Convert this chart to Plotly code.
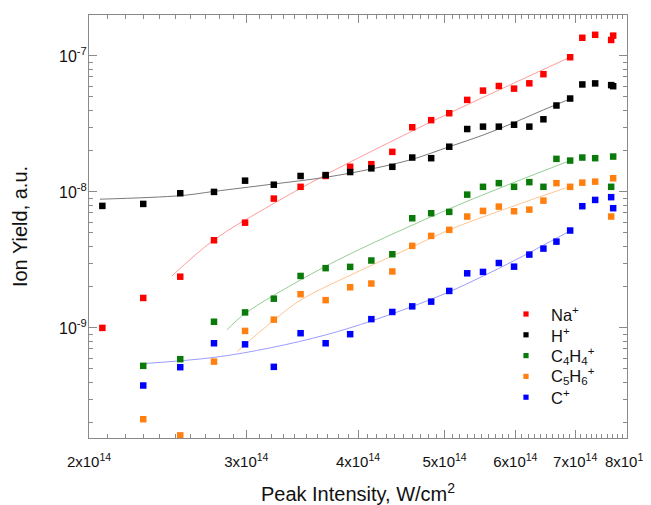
import plotly.graph_objects as go

# ---------------- data (intensity in units of 1e14 W/cm^2) ----------------
I_all = [2.07, 2.30, 2.53, 2.76, 2.99, 3.22, 3.45, 3.68, 3.92, 4.14, 4.37, 4.60, 4.83,
         5.06, 5.30, 5.52, 5.75, 5.98, 6.22, 6.45, 6.67, 6.91, 7.13, 7.37, 7.68, 7.72]

na_x = [2.07, 2.30, 2.53, 2.76, 2.99, 3.22, 3.45, 3.68, 3.92, 4.14, 4.37, 4.60, 4.83,
        5.06, 5.30, 5.52, 5.75, 5.98, 6.22, 6.45, 6.91, 7.13, 7.37, 7.68, 7.72]
na_y = [1.00e-9, 1.66e-9, 2.38e-9, 4.41e-9, 5.94e-9, 8.93e-9, 1.09e-8, 1.31e-8, 1.53e-8,
        1.60e-8, 1.97e-8, 2.99e-8, 3.37e-8, 3.79e-8, 4.75e-8, 5.56e-8, 6.01e-8, 5.75e-8,
        6.29e-8, 7.34e-8, 9.78e-8, 1.36e-7, 1.43e-7, 1.31e-7, 1.41e-7]

h_x = I_all
h_y = [7.89e-9, 8.16e-9, 9.78e-9, 1.00e-8, 1.21e-8, 1.13e-8, 1.31e-8, 1.33e-8, 1.40e-8,
       1.49e-8, 1.53e-8, 1.79e-8, 1.77e-8, 2.15e-8, 2.90e-8, 3.02e-8, 3.02e-8, 3.12e-8,
       3.02e-8, 3.42e-8, 4.32e-8, 4.86e-8, 6.17e-8, 6.28e-8, 6.10e-8, 5.99e-8]

c4h4_x = I_all[1:]
c4h4_y = [5.26e-10, 5.89e-10, 1.11e-9, 1.30e-9, 1.64e-9, 2.41e-9, 2.75e-9, 2.81e-9, 3.13e-9,
          3.48e-9, 6.40e-9, 6.97e-9, 7.13e-9, 9.55e-9, 1.09e-8, 1.16e-8, 1.09e-8, 1.18e-8,
          1.09e-8, 1.75e-8, 1.70e-8, 1.79e-8, 1.77e-8, 1.09e-8, 1.82e-8]

c5h6_x = I_all[1:]
c5h6_y = [2.13e-10, 1.62e-10, 5.65e-10, 9.50e-10, 1.15e-9, 1.77e-9, 1.60e-9, 1.99e-9, 2.12e-9,
          2.60e-9, 4.01e-9, 4.75e-9, 5.26e-9, 6.59e-9, 7.25e-9, 7.80e-9, 7.21e-9, 7.41e-9,
          8.63e-9, 1.16e-8, 1.09e-8, 1.17e-8, 1.19e-8, 6.59e-9, 1.26e-8]

c_x = I_all[1:]
c_y = [3.77e-10, 5.14e-10, 7.71e-10, 7.57e-10, 5.17e-10, 9.14e-10, 7.71e-10, 8.99e-10, 1.16e-9,
       1.31e-9, 1.44e-9, 1.56e-9, 1.87e-9, 2.52e-9, 2.58e-9, 3.00e-9, 2.82e-9, 3.46e-9,
       3.83e-9, 4.31e-9, 5.20e-9, 7.85e-9, 8.73e-9, 9.15e-9, 7.59e-9]

# fit curves
na_fit_x = [2.477, 2.76, 3.149, 3.678, 4.604, 5.06, 6.91]
na_fit_y = [2.41e-9, 4.44e-9, 7.56e-9, 1.334e-8, 2.81e-8, 3.79e-8, 9.79e-8]
h_fit_x = [2.057, 2.533, 2.762, 3.19, 3.678, 4.142, 4.604, 5.06, 5.524, 5.984, 6.45, 6.91]
h_fit_y = [8.84e-9, 9.39e-9, 1.009e-8, 1.135e-8, 1.28e-8, 1.476e-8, 1.74e-8, 2.15e-8,
           2.62e-8, 3.24e-8, 4.01e-8, 4.83e-8]
c4h4_fit_x = [2.853, 2.993, 3.453, 3.92, 5.06, 5.922, 6.91]
c4h4_fit_y = [9.67e-10, 1.28e-9, 2.26e-9, 3.50e-9, 7.50e-9, 1.145e-8, 1.70e-8]
c5h6_fit_x = [2.93, 3.224, 3.453, 4.024, 4.60, 5.06, 5.922, 6.91]
c5h6_fit_y = [6.72e-10, 1.146e-9, 1.607e-9, 2.64e-9, 3.94e-9, 5.26e-9, 7.72e-9, 1.097e-8]
c_fit_x = [2.30, 2.762, 3.19, 3.681, 4.142, 4.604, 5.06, 5.524, 5.984, 6.91]
c_fit_y = [5.46e-10, 6.07e-10, 7.13e-10, 8.88e-10, 1.125e-9, 1.439e-9, 1.84e-9, 2.41e-9,
           3.13e-9, 5.17e-9]

labels = ["Na<sup>+</sup>", "H<sup>+</sup>", "C<sub>4</sub>H<sub>4</sub><sup>+</sup>",
          "C<sub>5</sub>H<sub>6</sub><sup>+</sup>", "C<sup>+</sup>"]

x_tick_vals = [2, 3, 4, 5, 6, 7, 8]
x_tick_text = ["2x10<sup>14</sup>", "3x10<sup>14</sup>", "4x10<sup>14</sup>", "5x10<sup>14</sup>",
               "6x10<sup>14</sup>", "7x10<sup>14</sup>", "8x10<sup>14</sup>"]
y_tick_vals = [1e-9, 1e-8, 1e-7]
y_tick_text = ["10<sup>-9</sup>", "10<sup>-8</sup>", "10<sup>-7</sup>"]

# ---------------- styling ----------------
marker_colors = ["#ff0000", "#000000", "#0a7a0a", "#ff7f0f", "#0000ff"]
fit_colors = ["#ff9c9c", "#7a7a7a", "#93cf93", "#ffc590", "#9c9cff"]
E14 = 1e14
OFF = 8                      # default page body margin of the html page
W, H = 651 - OFF, 505 - OFF
ML, MR, MT, MB = 89 - OFF, 24, 15 - OFF, 67
PW, PH = W - ML - MR, H - MT - MB
PLOT_LEFT, PLOT_BOTTOM = 89, 438   # page pixels

series = [(na_x, na_y, na_fit_x, na_fit_y),
          (h_x, h_y, h_fit_x, h_fit_y),
          (c4h4_x, c4h4_y, c4h4_fit_x, c4h4_fit_y),
          (c5h6_x, c5h6_y, c5h6_fit_x, c5h6_fit_y),
          (c_x, c_y, c_fit_x, c_fit_y)]

fig = go.Figure()
for i, (sx, sy, fx, fy) in enumerate(series):
    fig.add_trace(go.Scatter(
        x=[v * E14 for v in fx], y=fy, mode="lines",
        line=dict(color=fit_colors[i], width=1, shape="spline", smoothing=1.0),
        showlegend=False, hoverinfo="skip"))
for i, (sx, sy, fx, fy) in enumerate(series):
    fig.add_trace(go.Scatter(
        x=[v * E14 for v in sx], y=sy, mode="markers", name=labels[i],
        marker=dict(symbol="square", size=6.5, color=marker_colors[i], line=dict(width=0)),
        cliponaxis=False, showlegend=False))

font_family = "Liberation Sans, Arial, Helvetica, sans-serif"
axis_color = "#8a8a8a"

# ---- legend drawn inside the plot (square swatch + label) ----
leg_sym_x = 526          # page pixel x of swatch centre
leg_text_x = 549         # page pixel x of label start
leg_top = 314            # page pixel y of first row
leg_step = 20.8
shapes = []
annotations = []
for i, lab in enumerate(labels):
    py = leg_top + i * leg_step
    yp = (PLOT_BOTTOM - py) / PH
    xs = (leg_sym_x - PLOT_LEFT) / PW
    half_w = 2.6 / PW
    half_h = 2.6 / PH
    shapes.append(dict(type="rect", xref="paper", yref="paper",
                       x0=xs - half_w, x1=xs + half_w, y0=yp - half_h, y1=yp + half_h,
                       fillcolor=marker_colors[i], line=dict(width=0)))
    annotations.append(dict(xref="paper", yref="paper", x=(leg_text_x - PLOT_LEFT) / PW, y=yp,
                            xanchor="left", yanchor="middle", text=lab, showarrow=False,
                            font=dict(size=16.5, family=font_family, color="#111111")))

x_minor = [(m + k / 10) * E14 for m in range(2, 8) for k in range(1, 10)]
y_minor = [k * 10.0 ** e for e in range(-10, -6) for k in range(2, 10)
           if 1.55e-10 <= k * 10.0 ** e <= 2e-7]

fig.update_layout(
    width=W, height=H,
    margin=dict(l=ML, r=MR, t=MT, b=MB, autoexpand=False),
    paper_bgcolor="white", plot_bgcolor="white",
    font=dict(family=font_family, color="#111111", size=16),
    showlegend=False,
    shapes=shapes, annotations=annotations,
)

fig.update_xaxes(
    type="log", range=[14.30103, 14.90309], automargin=False,
    tickmode="array", tickvals=[v * E14 for v in x_tick_vals], ticktext=x_tick_text,
    ticks="inside", ticklen=8, tickcolor=axis_color, tickwidth=1,
    showline=True, linecolor=axis_color, linewidth=1, mirror="allticks",
    showgrid=False, zeroline=False,
    tickfont=dict(size=15), ticklabelstandoff=10, ticklabeloverflow="allow",
    minor=dict(tickmode="array", tickvals=x_minor, ticks="inside", ticklen=4,
               tickcolor=axis_color, showgrid=False),
    title=dict(text="Peak Intensity, W/cm<sup>2</sup>", font=dict(size=20), standoff=18),
)
fig.update_yaxes(
    type="log", range=[-9.8097, -6.699], automargin=False,
    tickmode="array", tickvals=y_tick_vals, ticktext=y_tick_text,
    ticks="inside", ticklen=8, tickcolor=axis_color, tickwidth=1,
    showline=True, linecolor=axis_color, linewidth=1, mirror="allticks",
    showgrid=False, zeroline=False,
    tickfont=dict(size=16), ticklabelstandoff=-2,
    minor=dict(tickmode="array", tickvals=y_minor, ticks="inside", ticklen=4,
               tickcolor=axis_color, showgrid=False),
    title=dict(text="Ion Yield, a.u.", font=dict(size=20), standoff=26),
)

fig.write_html("out.html")
